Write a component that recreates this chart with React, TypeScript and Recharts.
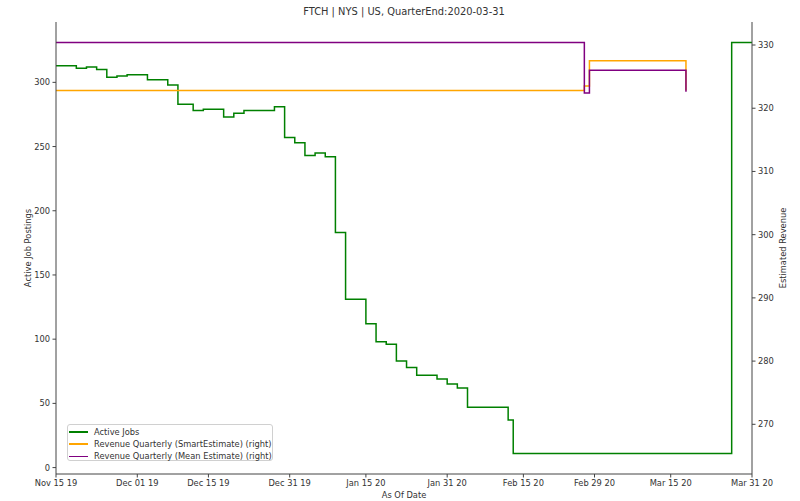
import React from 'react';
import { LineChart, Line, XAxis, YAxis, Label } from 'recharts';

const jobDates = [
  '2019-11-15', '2019-11-19', '2019-11-21', '2019-11-23', '2019-11-25', '2019-11-27', '2019-11-29',
  '2019-12-03', '2019-12-07', '2019-12-09', '2019-12-12', '2019-12-14', '2019-12-18', '2019-12-20',
  '2019-12-22', '2019-12-28', '2019-12-30', '2020-01-01', '2020-01-03', '2020-01-05', '2020-01-07',
  '2020-01-09', '2020-01-11', '2020-01-15', '2020-01-17', '2020-01-19', '2020-01-21', '2020-01-23',
  '2020-01-25', '2020-01-29', '2020-01-31', '2020-02-02', '2020-02-04', '2020-02-12', '2020-02-13',
  '2020-03-27', '2020-03-31',
];
const jobValues = [
  313, 311, 312, 310, 304, 305, 306,
  302, 298, 283, 278, 279, 273, 276,
  278, 281, 257, 253, 243, 245, 242,
  183, 131, 112, 98, 96, 83, 78,
  72, 69, 65, 62, 47, 37, 11,
  331, 331,
];

const smartDates = ['2019-11-15', '2020-02-27', '2020-02-28', '2020-03-18'];
const smartValues = [322.8, 323.5, 327.5, 322.8];

const meanDates = ['2019-11-15', '2020-02-27', '2020-02-28', '2020-03-18'];
const meanValues = [330.4, 322.4, 326.0, 322.6];

const tickDates = [
  '2019-11-15', '2019-12-01', '2019-12-15', '2019-12-31', '2020-01-15',
  '2020-01-31', '2020-02-15', '2020-02-29', '2020-03-15', '2020-03-31',
];
const tickLabels = [
  'Nov 15 19', 'Dec 01 19', 'Dec 15 19', 'Dec 31 19', 'Jan 15 20',
  'Jan 31 20', 'Feb 15 20', 'Feb 29 20', 'Mar 15 20', 'Mar 31 20',
];
const leftTicks = [0, 50, 100, 150, 200, 250, 300];
const rightTicks = [270, 280, 290, 300, 310, 320, 330];

const ORIGIN = Date.UTC(2019, 10, 15);
const toDay = (s: string) => {
  const [y, m, d] = s.split('-').map(Number);
  return (Date.UTC(y, m - 1, d) - ORIGIN) / 86400000;
};

const build = (dates: string[], values: number[]) =>
  dates.map((d, i) => ({ day: toDay(d), v: values[i] }));

const jobData = build(jobDates, jobValues);
const smartData = build(smartDates, smartValues);
const meanData = build(meanDates, meanValues);
const xTicks = tickDates.map(toDay);
const xDomain = [toDay(tickDates[0]), toDay(tickDates[tickDates.length - 1])];

const FONT = 'DejaVu Sans';
const TEXT = '#333';
const SPINE = '#444';
const tickStyle = { fontSize: 8.3, fill: TEXT, fontFamily: FONT };

const GREEN = '#008000';
const ORANGE = '#FFA500';
const PURPLE = '#800080';

const legendItems = [
  { name: 'Active Jobs', color: GREEN },
  { name: 'Revenue Quarterly (SmartEstimate) (right)', color: ORANGE },
  { name: 'Revenue Quarterly (Mean Estimate) (right)', color: PURPLE },
];

export default function App() {
  return (
    <div style={{ position: 'absolute', left: 0, top: 0, width: 800, height: 501, background: '#fff', fontFamily: FONT }}>
      <div
        style={{
          position: 'absolute', left: 56, width: 696, top: 6, textAlign: 'center',
          fontSize: 9.9, color: TEXT, lineHeight: '12px', whiteSpace: 'nowrap',
        }}
      >
        FTCH | NYS | US, QuarterEnd:2020-03-31
      </div>
      <LineChart width={800} height={501} margin={{ top: 22, right: 0, bottom: 0, left: 0 }}>
        <XAxis
          xAxisId="t"
          orientation="top"
          type="number"
          dataKey="day"
          domain={xDomain}
          allowDataOverflow
          height={0}
          tick={false}
          tickLine={false}
          axisLine={{ stroke: SPINE, strokeWidth: 1 }}
        />
        <XAxis
          xAxisId="b"
          type="number"
          dataKey="day"
          domain={xDomain}
          allowDataOverflow
          ticks={xTicks}
          interval={0}
          tickFormatter={(v: number) => tickLabels[xTicks.indexOf(v)] ?? ''}
          height={27}
          tick={tickStyle}
          tickSize={3.5}
          tickMargin={2.5}
          tickLine={{ stroke: SPINE }}
          axisLine={{ stroke: SPINE, strokeWidth: 1 }}
        >
          <Label
            content={(p: any) => {
              const vb = p.viewBox || { x: 56, y: 474, width: 696 };
              return (
                <text x={vb.x + vb.width / 2} y={498} textAnchor="middle" fontSize={8.3} fill={TEXT} fontFamily={FONT}>
                  As Of Date
                </text>
              );
            }}
          />
        </XAxis>
        <YAxis
          yAxisId="L"
          orientation="left"
          width={56}
          type="number"
          domain={[-5, 347]}
          allowDataOverflow
          ticks={leftTicks}
          interval={0}
          tick={tickStyle}
          tickSize={3.5}
          tickMargin={2.5}
          tickLine={{ stroke: SPINE }}
          axisLine={{ stroke: SPINE, strokeWidth: 1 }}
        >
          <Label
            content={(p: any) => {
              const vb = p.viewBox || { x: 0, y: 22, height: 452 };
              const cy = vb.y + vb.height / 2;
              return (
                <text x={28} y={cy} transform={`rotate(-90 28 ${cy})`} textAnchor="middle" dominantBaseline="central" fontSize={8.3} fill={TEXT} fontFamily={FONT}>
                  Active Job Postings
                </text>
              );
            }}
          />
        </YAxis>
        <YAxis
          yAxisId="R"
          orientation="right"
          width={48}
          type="number"
          domain={[262.14, 333.64]}
          allowDataOverflow
          ticks={rightTicks}
          interval={0}
          tick={tickStyle}
          tickSize={3.5}
          tickMargin={2.5}
          tickLine={{ stroke: SPINE }}
          axisLine={{ stroke: SPINE, strokeWidth: 1 }}
        >
          <Label
            content={(p: any) => {
              const vb = p.viewBox || { x: 752, y: 22, height: 452 };
              const cy = vb.y + vb.height / 2;
              return (
                <text x={783} y={cy} transform={`rotate(-90 783 ${cy})`} textAnchor="middle" dominantBaseline="central" fontSize={8.3} fill={TEXT} fontFamily={FONT}>
                  Estimated Revenue
                </text>
              );
            }}
          />
        </YAxis>
        <Line
          xAxisId="b"
          yAxisId="L"
          data={jobData}
          dataKey="v"
          type="stepAfter"
          stroke={GREEN}
          strokeWidth={1.5}
          dot={false}
          activeDot={false}
          isAnimationActive={false}
        />
        <Line
          xAxisId="b"
          yAxisId="R"
          data={smartData}
          dataKey="v"
          type="stepAfter"
          stroke={ORANGE}
          strokeWidth={1.5}
          dot={false}
          activeDot={false}
          isAnimationActive={false}
        />
        <Line
          xAxisId="b"
          yAxisId="R"
          data={meanData}
          dataKey="v"
          type="stepAfter"
          stroke={PURPLE}
          strokeWidth={1.5}
          dot={false}
          activeDot={false}
          isAnimationActive={false}
        />
      </LineChart>
      <div
        style={{
          position: 'absolute', left: 67, top: 424, width: 206, height: 37,
          border: '1px solid #d0d0d0', borderRadius: 3, background: 'rgba(255,255,255,0.8)',
          boxSizing: 'border-box',
        }}
      >
        {legendItems.map((it, i) => (
          <div
            key={it.name}
            style={{ position: 'absolute', left: 0, top: 1 + i * 12.2, height: 12, display: 'flex', alignItems: 'center' }}
          >
            <span style={{ display: 'inline-block', marginLeft: 1, width: 19, height: 1.5, background: it.color }} />
            <span style={{ marginLeft: 6, fontSize: 8.3, color: TEXT, whiteSpace: 'nowrap' }}>{it.name}</span>
          </div>
        ))}
      </div>
    </div>
  );
}
